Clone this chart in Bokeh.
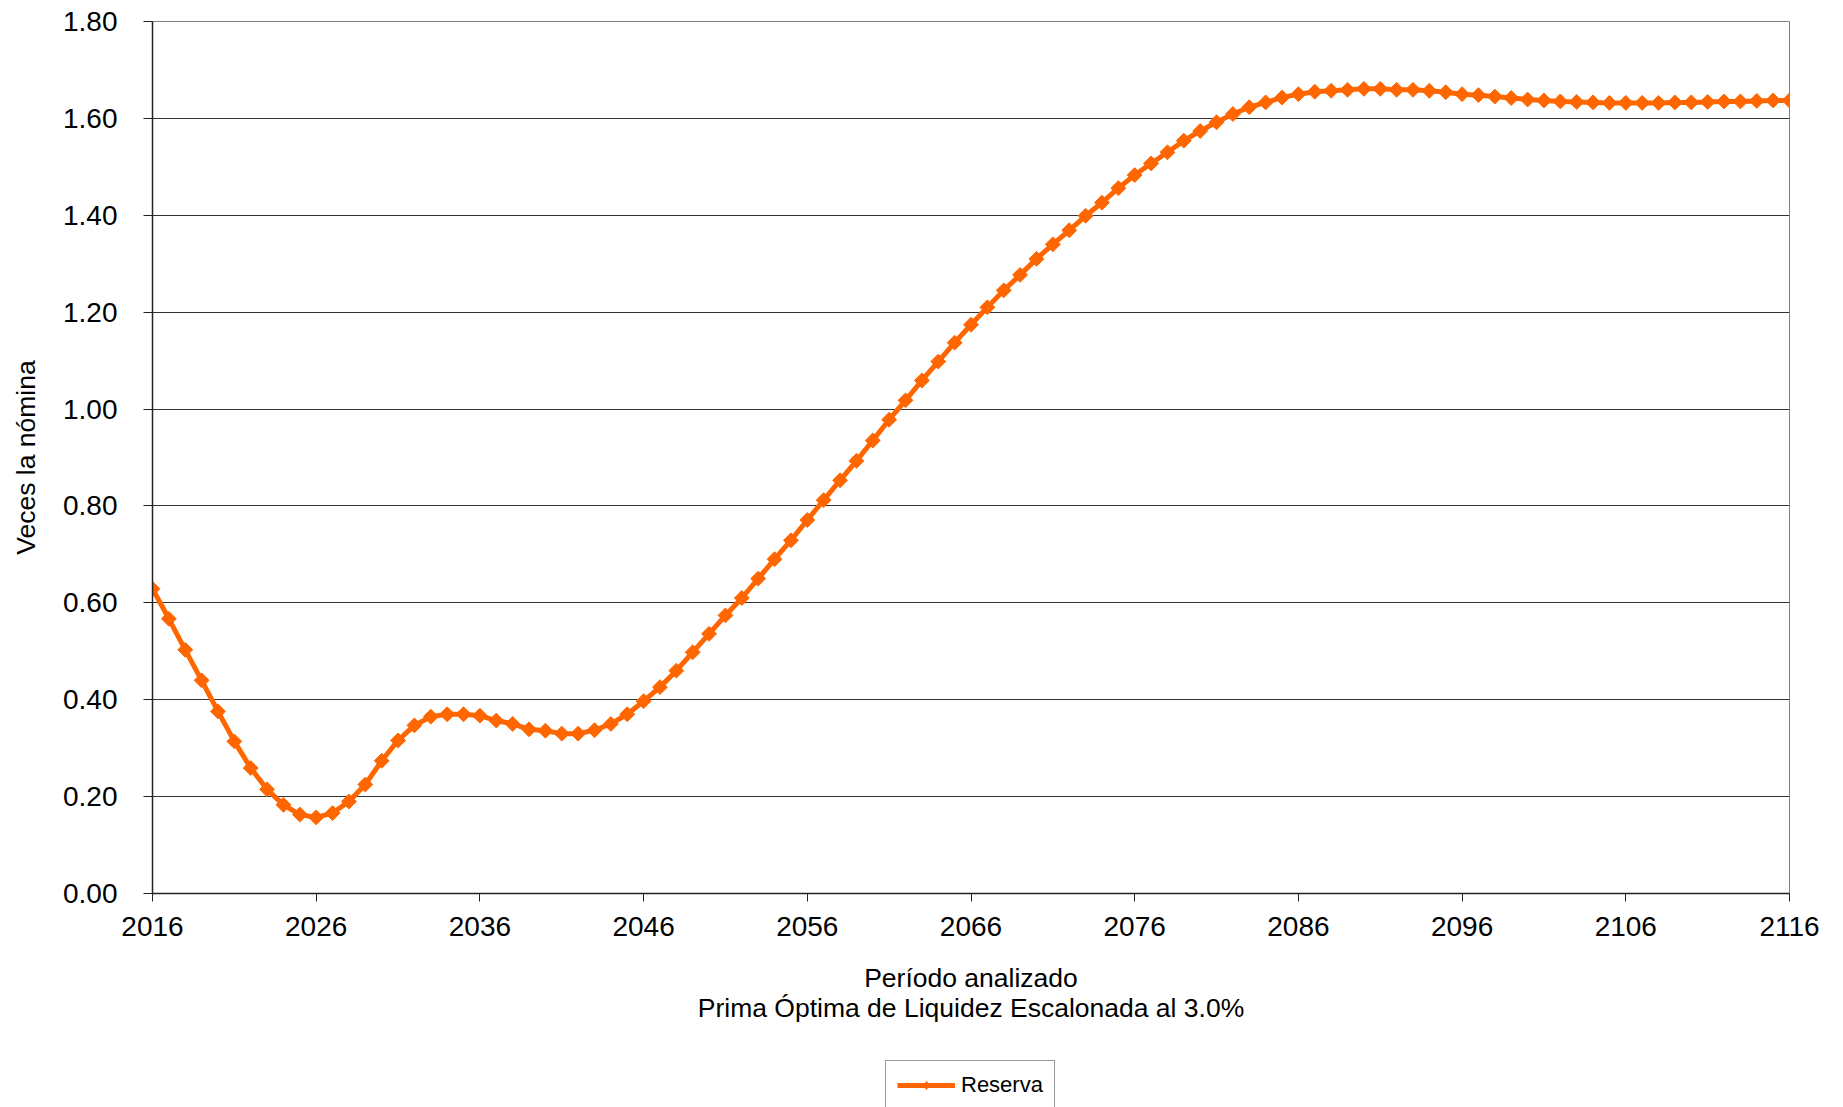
import numpy as np
from bokeh.plotting import figure
from bokeh.layouts import column
from bokeh.models import (Range1d, FixedTicker, Legend, LegendItem,
                          NumeralTickFormatter, Title)
from bokeh.embed import file_html
from bokeh.resources import INLINE

# ---------------- data ----------------
years = list(range(2016, 2117))
reserva = [
    0.629, 0.567, 0.503, 0.440, 0.376, 0.314, 0.259, 0.215, 0.183, 0.163,  # 2016-2025
    0.157, 0.166, 0.190, 0.225, 0.274, 0.316, 0.347, 0.365, 0.370, 0.370,  # 2026-2035
    0.367, 0.357, 0.350, 0.339, 0.336, 0.330, 0.330, 0.337, 0.350, 0.370,  # 2036-2045
    0.397, 0.426, 0.460, 0.498, 0.536, 0.574, 0.610, 0.650, 0.690, 0.729,  # 2046-2055
    0.771, 0.812, 0.853, 0.893, 0.935, 0.978, 1.018, 1.059, 1.098, 1.137,  # 2056-2065
    1.174, 1.210, 1.245, 1.277, 1.310, 1.340, 1.369, 1.399, 1.426, 1.456,  # 2066-2075
    1.483, 1.507, 1.530, 1.554, 1.574, 1.592, 1.609, 1.623, 1.633, 1.643,  # 2076-2085
    1.650, 1.655, 1.657, 1.659, 1.661, 1.661, 1.659, 1.659, 1.657, 1.654,  # 2086-2095
    1.650, 1.648, 1.645, 1.642, 1.639, 1.637, 1.635, 1.634, 1.633, 1.632,  # 2096-2105
    1.632, 1.632, 1.632, 1.633, 1.633, 1.634, 1.635, 1.635, 1.636, 1.637,  # 2106-2115
    1.637,                                                                 # 2116
]
x_ticks = [2016, 2026, 2036, 2046, 2056, 2066, 2076, 2086, 2096, 2106, 2116]
y_ticks = [0.0, 0.2, 0.4, 0.6, 0.8, 1.0, 1.2, 1.4, 1.6, 1.8]
y_title = "Veces la nómina"
x_title_1 = "Período analizado"
x_title_2 = "Prima Óptima de Liquidez Escalonada al 3.0%"
series_name = "Reserva"

# ---------------- layout ----------------
W = 1843
H_MAIN, H_LEG = 1056, 51
LEFT, RIGHT, TOP = 152, 54, 21
BOTTOM = H_MAIN - 893
FONT = "Liberation Sans"
ORANGE = "#FF6600"

p = figure(width=W, height=H_MAIN, output_backend="svg", toolbar_location=None,
           x_range=Range1d(2016, 2116), y_range=Range1d(0.0, 1.8),
           min_border_left=LEFT, min_border_right=RIGHT,
           min_border_top=TOP, min_border_bottom=BOTTOM)
p.background_fill_color = "white"
p.border_fill_color = "white"
p.outline_line_color = "#808080"
p.outline_line_width = 1

# axes
p.xaxis.ticker = FixedTicker(ticks=x_ticks)
p.yaxis.ticker = FixedTicker(ticks=y_ticks)
p.yaxis.formatter = NumeralTickFormatter(format="0.00")
for ax in (p.xaxis[0], p.yaxis[0]):
    ax.axis_line_color = "#222222"
    ax.axis_line_width = 1.5
    ax.major_tick_line_color = "#222222"
    ax.major_tick_line_width = 1
    ax.major_tick_in = 0
    ax.minor_tick_line_color = None
    ax.major_label_text_font = FONT
    ax.major_label_text_font_size = "28px"
    ax.major_label_text_color = "black"
    ax.axis_label_text_font = FONT
    ax.axis_label_text_font_size = "26.5px"
    ax.axis_label_text_font_style = "normal"
    ax.axis_label_text_color = "black"
p.xaxis.major_tick_out = 8
p.yaxis.major_tick_out = 9
p.xaxis.major_label_standoff = 15
p.yaxis.major_label_standoff = 26

p.yaxis.axis_label = y_title
p.yaxis.axis_label_standoff = 19
p.xaxis.axis_label = x_title_1
p.xaxis.axis_label_standoff = 24

# second line of the x title
t2 = Title(text=x_title_2, align="center", vertical_align="top", standoff=-6,
           text_font=FONT, text_font_size="26.5px", text_font_style="normal",
           text_color="black")
p.add_layout(t2, "below")

# grid
p.xgrid.grid_line_color = None
p.ygrid.ticker = FixedTicker(ticks=y_ticks[1:-1])
p.ygrid.grid_line_color = "#333333"
p.ygrid.grid_line_width = 1

# series
ln = p.line(years, reserva, line_color=ORANGE, line_width=5)
mk = p.scatter(years, reserva, marker="square", angle=np.pi / 4, size=10.5,
               fill_color=ORANGE, line_color=ORANGE)

# ---------------- legend strip ----------------
# the strip's ranges keep the (same) series out of view: only its legend shows
q = figure(width=W, height=H_LEG, output_backend="svg", toolbar_location=None,
           x_range=Range1d(0, 1), y_range=Range1d(0, 1),
           min_border_left=LEFT, min_border_right=RIGHT,
           min_border_top=0, min_border_bottom=0)
q.axis.visible = False
q.grid.grid_line_color = None
q.outline_line_color = None
q.background_fill_color = "white"
q.border_fill_color = "white"
lg_line = q.line(years, reserva, line_color=ORANGE, line_width=5)
lg_mark = q.scatter(years, reserva, marker="diamond", size=13,
                    fill_color=ORANGE, line_color=ORANGE)
legend = Legend(items=[LegendItem(label=series_name, renderers=[lg_line, lg_mark])],
                location=(885 - LEFT, -3), orientation="vertical",
                label_text_font=FONT, label_text_font_size="22px",
                label_text_color="black",
                glyph_width=58, glyph_height=20, label_height=20,
                label_standoff=6, padding=11, spacing=0, margin=0,
                border_line_color="#333333", border_line_width=1,
                background_fill_color="white", background_fill_alpha=1)
q.add_layout(legend, "center")

page = column(p, q, spacing=0)
open("out.html", "w").write(file_html(page, INLINE))
